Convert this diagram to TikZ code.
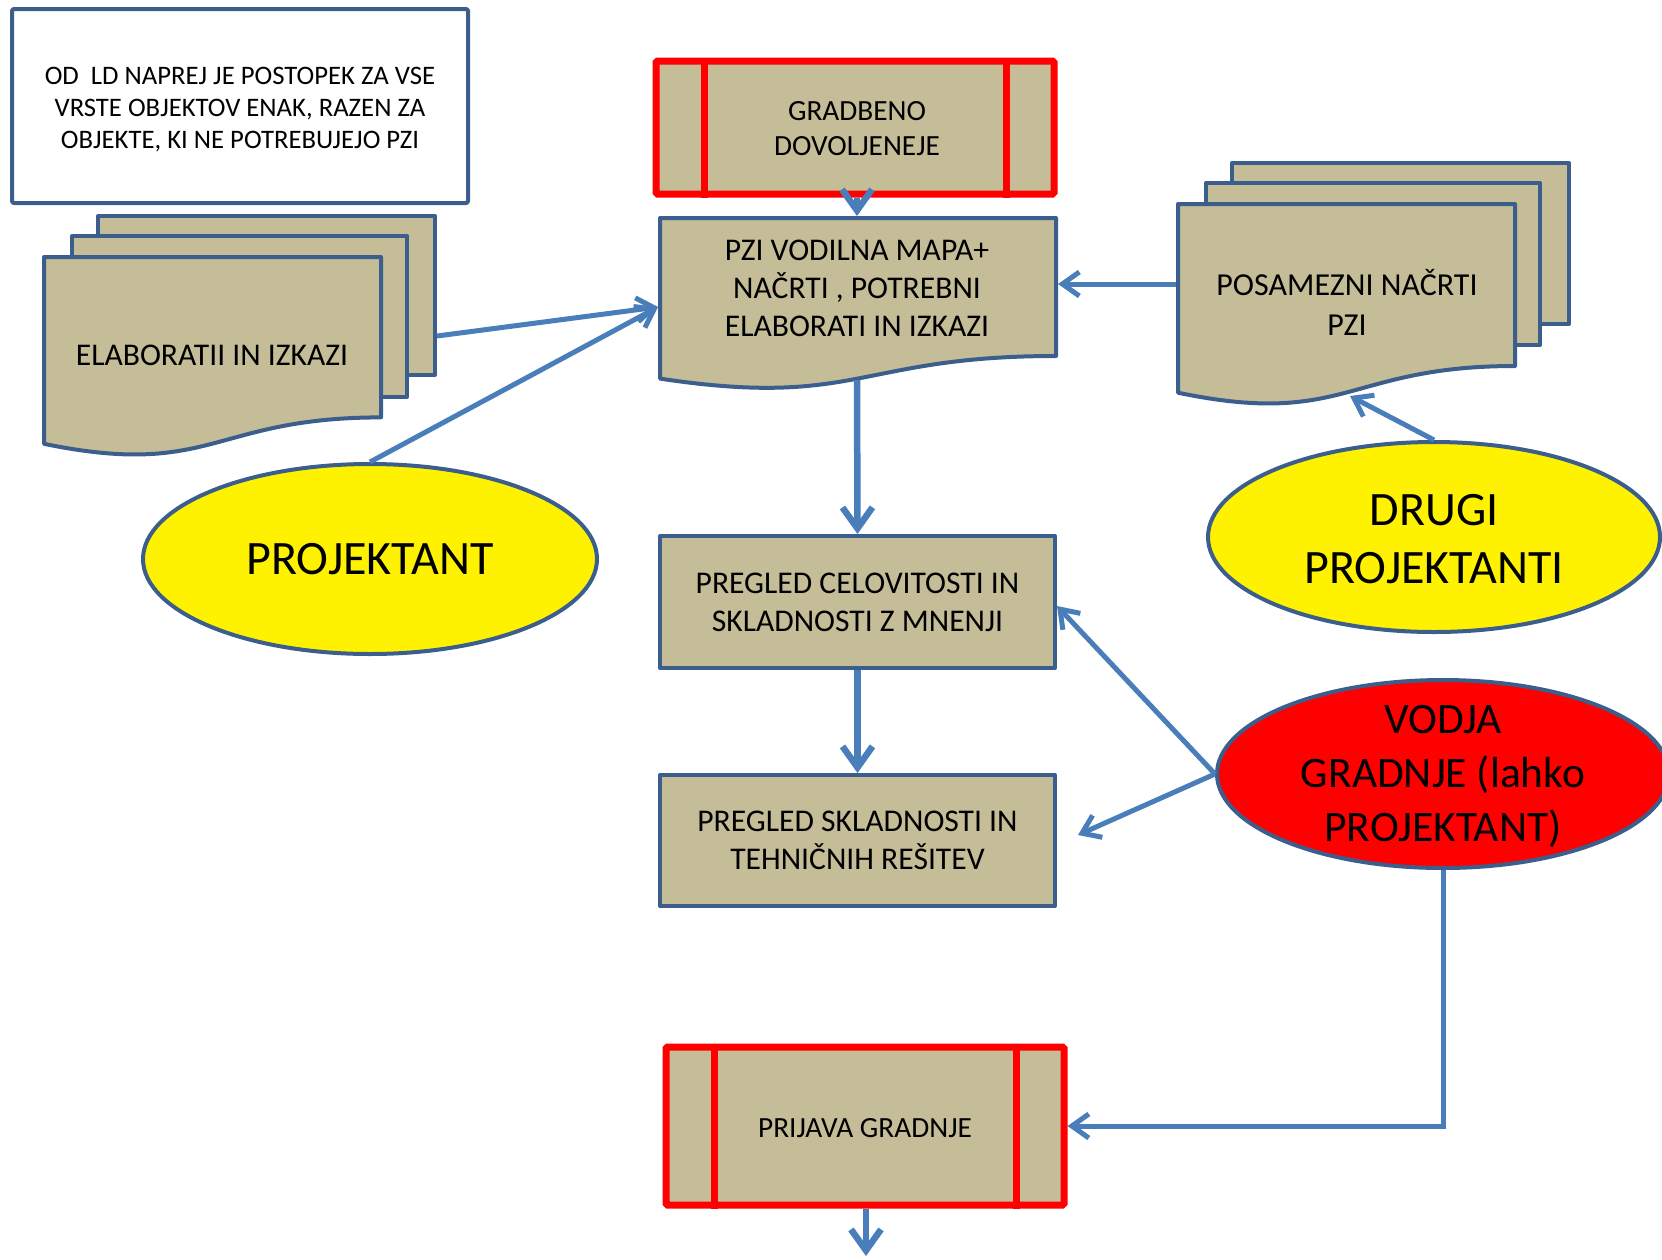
\documentclass[tikz,border=0pt]{standalone}
\usepackage{fontspec}
\setmainfont{Carlito}
\usetikzlibrary{arrows.meta,shapes.geometric}
\definecolor{boxtan}{HTML}{C4BD97}
\definecolor{boxblue}{HTML}{3B5E8C}
\definecolor{arrowblue}{HTML}{4A7EBB}
\begin{document}
\begin{tikzpicture}[x=1pt,y=-1pt,
  outl/.style={draw=boxblue, line width=4pt, line join=round},
  docfill/.style={outl, fill=boxtan},
  redbox/.style={draw=red, line width=7pt, fill=boxtan, rounded corners=1.5pt, minimum width=398pt, minimum height=133pt, inner sep=0pt},
  redline/.style={draw=red, line width=7pt},
  arr/.style={draw=arrowblue, line width=5pt, -{Straight Barb[length=17pt,width=24pt]}},
  arrthick/.style={draw=arrowblue, line width=6.5pt, -{Straight Barb[length=21pt,width=30pt]}},
  ell/.style={ellipse, draw=boxblue, line width=4pt, inner sep=0pt},
  txt/.style={align=center, inner sep=0pt},
  fsmall/.style={font=\fontsize{26.7}{32}\selectfont},
  fmid/.style={font=\fontsize{29.3}{35}\selectfont},
  fnorm/.style={font=\fontsize{31.6}{38}\selectfont},
  fbig/.style={font=\fontsize{48}{58}\selectfont},
  fvod/.style={font=\fontsize{43.5}{54}\selectfont}
]
\useasboundingbox (0,0) rectangle (1662,1259);

% note box
\node[outl, fill=white, rectangle, rounded corners=2pt, minimum width=456pt, minimum height=194pt] (note) at (240,106) {};
\node[txt, fsmall] (notet) at (240,110)
  {OD\ \ LD NAPREJ JE POSTOPEK ZA VSE\\VRSTE OBJEKTOV ENAK, RAZEN ZA\\OBJEKTE, KI NE POTREBUJEJO PZI};

% gradbeno dovoljenje
\node[redbox] (gd) at (855,127.5) {};
\draw[redline] ([xshift=52pt]gd.north west) -- ([xshift=52pt]gd.south west);
\draw[redline] ([xshift=-51pt]gd.north east) -- ([xshift=-51pt]gd.south east);
\node[txt, fmid] (gdt) at (857,129) {GRADBENO\\DOVOLJENEJE};

% PZI document
\draw[docfill] (660,218) -- (1056,218) -- (1056,356) .. controls (858,356) and (858,408.5) .. (660,378.6) -- cycle;
\node[txt, fnorm] (pzi) at (857,288) {PZI VODILNA MAPA+\\NAČRTI , POTREBNI\\ELABORATI IN IZKAZI};
\coordinate (pziN) at (857,216);
\coordinate (pziS) at (857,380);
\coordinate (pziW) at (658,307);
\coordinate (pziE) at (1058,284);

% elaborati stack
\draw[docfill] (98,216) rectangle (435,375);
\draw[docfill] (72,236) rectangle (407,397);
\draw[docfill] (44,257) -- (381,257) -- (381,417.4) .. controls (212.5,417.4) and (212.5,478.5) .. (44,443.8) -- cycle;
\node[txt, fnorm] (elab) at (212,355) {ELABORATII IN IZKAZI};
\coordinate (elabE) at (437,336);

% posamezni stack
\draw[docfill] (1232,163) rectangle (1569,324);
\draw[docfill] (1206,183) rectangle (1540,345);
\draw[docfill] (1178,204) -- (1515,204) -- (1515,366) .. controls (1346.5,366) and (1346.5,427.7) .. (1178,392.7) -- cycle;
\node[txt, font=\fontsize{32}{40}\selectfont] (pos) at (1347,302) {POSAMEZNI NAČRTI\\PZI};
\coordinate (posW) at (1176,284);
\coordinate (posS) at (1350,396);

% ellipses
\node[ell, fill=yellow, minimum width=454pt, minimum height=190pt] (proj) at (370,559) {};
\node[txt, fbig] (projt) at (370,559) {PROJEKTANT};
\node[ell, fill=yellow, minimum width=452pt, minimum height=190pt] (drugi) at (1434,537) {};
\node[txt, fbig] (drugit) at (1434,539) {DRUGI\\PROJEKTANTI};
\node[ell, fill=red, minimum width=452pt, minimum height=188pt] (vodja) at (1443,774) {};
\node[txt, fvod] (vodjat) at (1443,776) {VODJA\\GRADNJE (lahko\\PROJEKTANT)};

% pregled boxes
\node[outl, fill=boxtan, rectangle, minimum width=395pt, minimum height=132pt, txt, fnorm] (pr1) at (857.5,602)
  {PREGLED CELOVITOSTI IN\\SKLADNOSTI Z MNENJI};
\node[outl, fill=boxtan, rectangle, minimum width=395pt, minimum height=131pt, txt, fnorm] (pr2) at (857.5,840.5)
  {PREGLED SKLADNOSTI IN\\TEHNIČNIH REŠITEV};

% prijava gradnje
\node[redbox, minimum height=158pt] (prij) at (865,1126) {};
\draw[redline] ([xshift=52pt]prij.north west) -- ([xshift=52pt]prij.south west);
\draw[redline] ([xshift=-51pt]prij.north east) -- ([xshift=-51pt]prij.south east);
\node[txt, fmid] (prijt) at (865,1128) {PRIJAVA GRADNJE};

% connectors
\coordinate (free1) at (1078,835);
\coordinate (free2) at (866,1256);
\draw[arrthick] (gd.south -| pziN) -- (pziN);
\draw[arr] (elabE) -- (pziW);
\draw[arr] (proj.north) -- (pziW);
\draw[arr] (posW) -- (pziE);
\draw[arr] (drugi.north) -- (posS);
\draw[arrthick] (pziS) -- (pr1.north);
\draw[arrthick] (pr1.south) -- (pr2.north);
\draw[arr] (vodja.west) -- ([yshift=-4pt]pr1.east);
\draw[arr] (vodja.west) -- (free1);
\draw[arr] (vodja.south) |- (prij.east);
\draw[arrthick] (prij.south -| free2) -- (free2);
\end{tikzpicture}
\end{document}
